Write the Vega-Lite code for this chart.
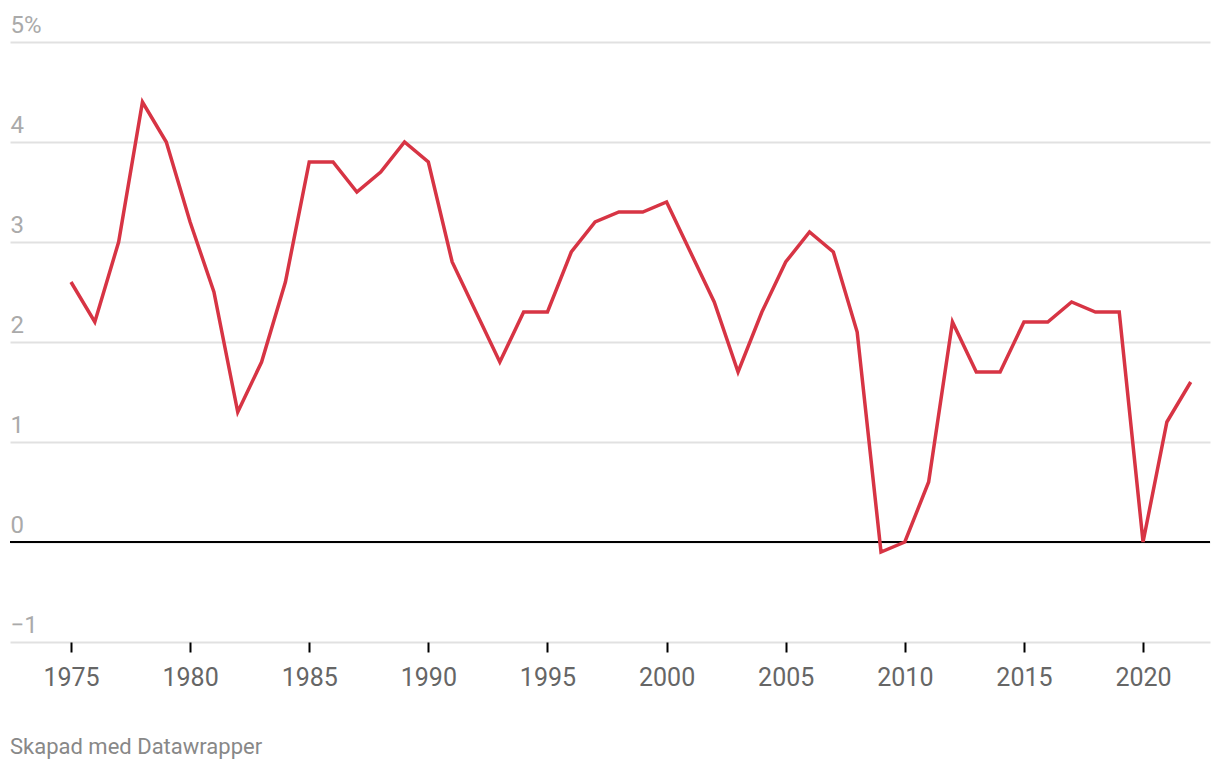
{
  "$schema": "https://vega.github.io/schema/vega-lite/v6.json",
  "width": 1200,
  "height": 600,
  "autosize": {"type": "none"},
  "padding": {"left": 10, "top": 42, "right": 10, "bottom": 126},
  "background": "white",
  "config": {
    "view": {"stroke": null},
    "font": "Roboto"
  },
  "title": {
    "text": "Skapad med Datawrapper",
    "orient": "bottom",
    "anchor": "start",
    "frame": "group",
    "fontSize": 22,
    "fontWeight": "normal",
    "color": "#888888",
    "font": "Roboto",
    "baseline": "top",
    "offset": 47
  },
  "data": {
    "values": [
      {"year": 1975, "value": 2.6},
      {"year": 1976, "value": 2.2},
      {"year": 1977, "value": 3.0},
      {"year": 1978, "value": 4.4},
      {"year": 1979, "value": 4.0},
      {"year": 1980, "value": 3.2},
      {"year": 1981, "value": 2.5},
      {"year": 1982, "value": 1.3},
      {"year": 1983, "value": 1.8},
      {"year": 1984, "value": 2.6},
      {"year": 1985, "value": 3.8},
      {"year": 1986, "value": 3.8},
      {"year": 1987, "value": 3.5},
      {"year": 1988, "value": 3.7},
      {"year": 1989, "value": 4.0},
      {"year": 1990, "value": 3.8},
      {"year": 1991, "value": 2.8},
      {"year": 1992, "value": 2.3},
      {"year": 1993, "value": 1.8},
      {"year": 1994, "value": 2.3},
      {"year": 1995, "value": 2.3},
      {"year": 1996, "value": 2.9},
      {"year": 1997, "value": 3.2},
      {"year": 1998, "value": 3.3},
      {"year": 1999, "value": 3.3},
      {"year": 2000, "value": 3.4},
      {"year": 2001, "value": 2.9},
      {"year": 2002, "value": 2.4},
      {"year": 2003, "value": 1.7},
      {"year": 2004, "value": 2.3},
      {"year": 2005, "value": 2.8},
      {"year": 2006, "value": 3.1},
      {"year": 2007, "value": 2.9},
      {"year": 2008, "value": 2.1},
      {"year": 2009, "value": -0.1},
      {"year": 2010, "value": 0.0},
      {"year": 2011, "value": 0.6},
      {"year": 2012, "value": 2.2},
      {"year": 2013, "value": 1.7},
      {"year": 2014, "value": 1.7},
      {"year": 2015, "value": 2.2},
      {"year": 2016, "value": 2.2},
      {"year": 2017, "value": 2.4},
      {"year": 2018, "value": 2.3},
      {"year": 2019, "value": 2.3},
      {"year": 2020, "value": 0.0},
      {"year": 2021, "value": 1.2},
      {"year": 2022, "value": 1.6}
    ]
  },
  "layer": [
    {
      "mark": {"type": "rule", "stroke": "#000000", "strokeWidth": 2},
      "encoding": {
        "y": {"datum": 0, "type": "quantitative", "scale": {"domain": [-1, 5], "nice": false, "zero": false}}
      }
    },
    {
      "mark": {"type": "line", "stroke": "#d73444", "strokeWidth": 3.5, "strokeJoin": "miter", "interpolate": "linear"},
      "encoding": {
        "x": {
          "field": "year",
          "type": "quantitative",
          "scale": {"domain": [1972.44, 2022.81], "nice": false, "zero": false},
          "axis": {
            "title": null,
            "values": [1975, 1980, 1985, 1990, 1995, 2000, 2005, 2010, 2015, 2020],
            "format": "d",
            "grid": false,
            "domain": false,
            "ticks": true,
            "tickSize": 10,
            "tickWidth": 2,
            "tickColor": "#000000",
            "labelFontSize": 25,
            "labelColor": "#666666",
            "labelPadding": 13,
            "labelFont": "Roboto"
          }
        },
        "y": {
          "field": "value",
          "type": "quantitative",
          "scale": {"domain": [-1, 5], "nice": false, "zero": false},
          "axis": {
            "title": null,
            "values": [-1, 0, 1, 2, 3, 4, 5],
            "grid": true,
            "gridColor": "#e1e1e1",
            "gridWidth": 2,
            "domain": false,
            "ticks": false,
            "tickSize": 0,
            "labelPadding": 0,
            "labelAlign": "left",
            "labelBaseline": "alphabetic",
            "labelOffset": -10,
            "labelFontSize": 24,
            "labelColor": "#aaaaaa",
            "labelFont": "Roboto",
            "labelExpr": "datum.value == 5 ? '5%' : (datum.value < 0 ? '\u2212' + abs(datum.value) : format(datum.value, 'd'))"
          }
        }
      }
    }
  ]
}
